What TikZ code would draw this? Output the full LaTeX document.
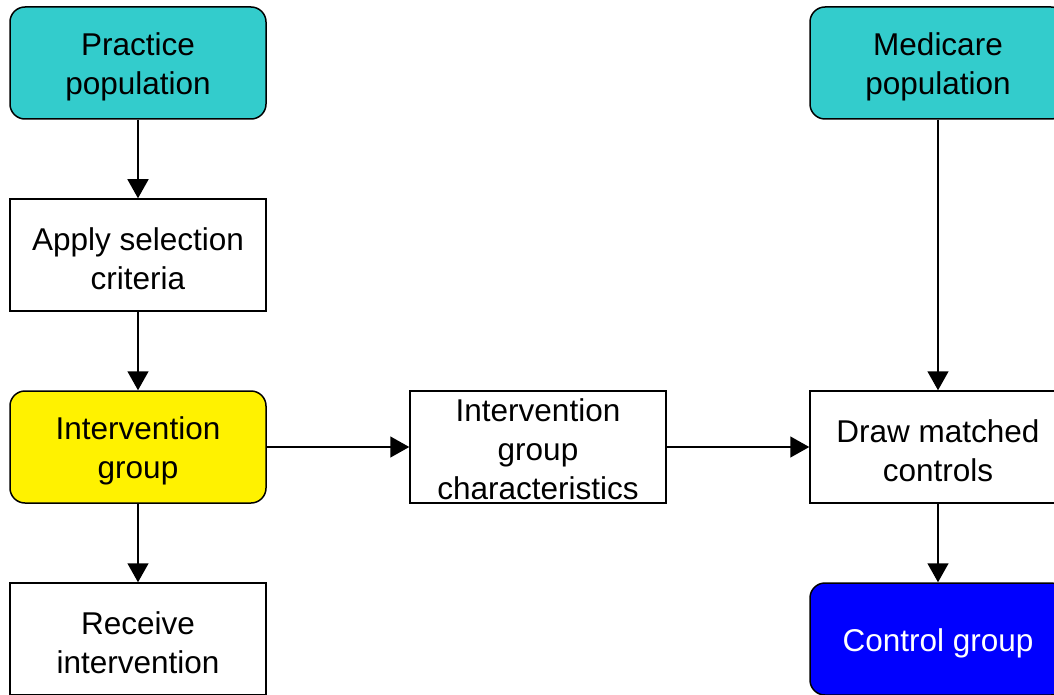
\documentclass[tikz,border=0pt]{standalone}
\usepackage{fontspec}
\setmainfont{Liberation Sans}
\usetikzlibrary{arrows.meta}
\definecolor{teal1}{HTML}{33CCCC}
\definecolor{blue1}{HTML}{0000FF}
\newcommand{\topstrut}{\rule{0pt}{31pt}}
\newcommand{\smallstrut}{\rule{0pt}{27pt}}
\tikzset{
  box/.style={draw=black, line width=1.5pt, minimum width=256pt, minimum height=112pt,
    inner sep=0pt, align=center, font=\fontsize{31.5}{39}\selectfont, text=black, fill=white},
  rbox/.style={box, rounded corners=15pt},
  conn/.style={line width=1.5pt, -{Triangle[length=19pt,width=21pt]}}
}
\begin{document}
\begin{tikzpicture}[x=1pt,y=-1pt]
\useasboundingbox (0,0) rectangle (1054,695);
\clip (0,0) rectangle (1054,695);
\node[rbox, fill=teal1] (pp) at (138,63) {\topstrut Practice\\population};
\node[box] (asc) at (138,255) {\topstrut Apply selection\\criteria};
\node[rbox, fill=yellow] (ig) at (138,447) {\topstrut Intervention\\group};
\node[box] (ri) at (138,639) {\topstrut Receive\\intervention};
\node[box] (igc) at (538,447) {\smallstrut Intervention\\group\\characteristics};
\node[rbox, fill=teal1] (mp) at (938,63) {\topstrut Medicare\\population};
\node[box] (dmc) at (938,447) {\topstrut Draw matched\\controls};
\node[rbox, fill=blue1, text=white] (cg) at (938,639) {\topstrut Control group};
\draw[conn] (pp) -- (asc);
\draw[conn] (asc) -- (ig);
\draw[conn] (ig) -- (ri);
\draw[conn] (ig) -- (igc);
\draw[conn] (igc) -- (dmc);
\draw[conn] (mp) -- (dmc);
\draw[conn] (dmc) -- (cg);
\end{tikzpicture}
\end{document}
